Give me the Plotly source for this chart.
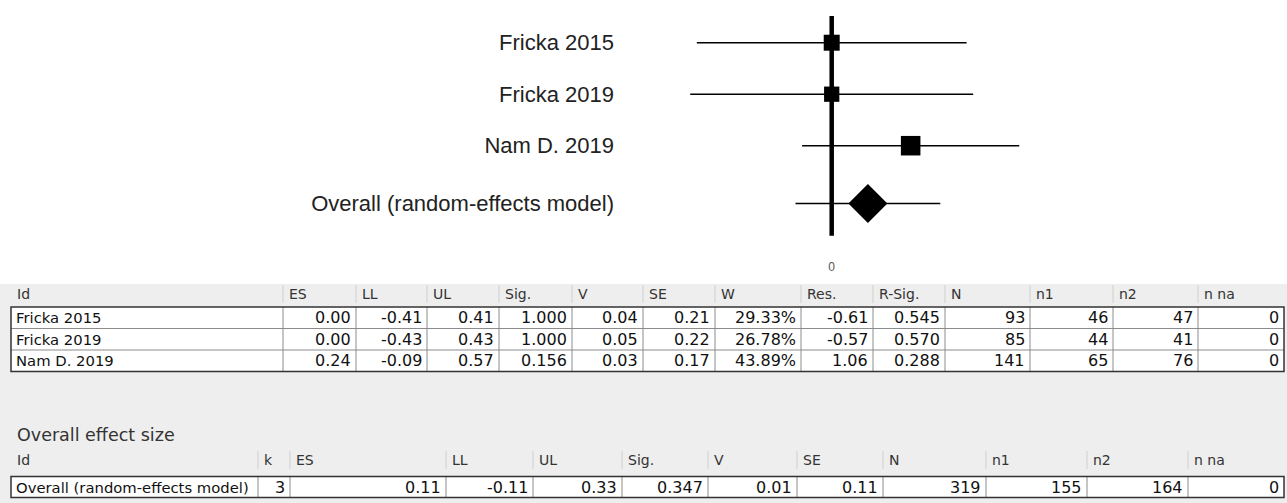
import plotly.graph_objects as go

FIG_W, FIG_H = 1287, 503

# ---- study level results ----
study_ids = ["Fricka 2015", "Fricka 2019", "Nam D. 2019"]
es = [0.00, 0.00, 0.24]
ll = [-0.41, -0.43, -0.09]
ul = [0.41, 0.43, 0.57]
sig = [1.000, 1.000, 0.156]
var = [0.04, 0.05, 0.03]
se = [0.21, 0.22, 0.17]
weight = [29.33, 26.78, 43.89]
res = [-0.61, -0.57, 1.06]
r_sig = [0.545, 0.570, 0.288]
n_total = [93, 85, 141]
n1 = [46, 44, 65]
n2 = [47, 41, 76]
n_na = [0, 0, 0]

# ---- overall (random-effects) ----
overall_id = "Overall (random-effects model)"
overall_k = 3
overall_es = 0.11
overall_ll = -0.11
overall_ul = 0.33
overall_sig = 0.347
overall_v = 0.01
overall_se = 0.11
overall_n = 319
overall_n1 = 155
overall_n2 = 164
overall_n_na = 0

study_header = ["Id", "ES", "LL", "UL", "Sig.", "V", "SE", "W", "Res.", "R-Sig.", "N", "n1", "n2", "n na"]
overall_header = ["Id", "k", "ES", "LL", "UL", "Sig.", "V", "SE", "N", "n1", "n2", "n na"]

# layout constants (pixels)
ROW0_PX = 42.7      # centre of first study row in the forest plot
ROW_STEP_PX = 51.5  # vertical distance between study rows
OVERALL_GAP = 0.12  # extra gap before the pooled row (in row units)
PLOT_LEFT_PX = 615
PLOT_BOTTOM_PX = 258
ZERO_PX = 831.7
PX_PER_UNIT = 329.0

T1_COLS = [11, 283, 356, 427, 499, 572, 643, 715, 801, 873, 945, 1030, 1113, 1198, 1284]
T2_COLS = [11, 258, 290, 446, 533, 622, 708, 797, 883, 986, 1087, 1188, 1284]

TABLE_FONT = "DejaVu Sans"
LABEL_FONT = "Liberation Sans, Arial, Helvetica"


def px(x):
    return x / FIG_W


def py(y):
    return 1 - y / FIG_H


def add_table(fig, cols, header, rows, header_y, body_top, row_h=21):
    """Draw a simple bordered table (header band + white body) with shapes/annotations."""
    body_bottom = body_top + row_h * len(rows)
    fig.add_shape(type='rect', xref='paper', yref='paper',
                  x0=px(cols[0]), x1=px(cols[-1]), y0=py(body_top), y1=py(body_bottom),
                  fillcolor='white', line=dict(width=0))
    for c in cols[1:-1]:
        fig.add_shape(type='line', xref='paper', yref='paper',
                      x0=px(c), x1=px(c), y0=py(body_top), y1=py(body_bottom),
                      line=dict(color='#8c8c8c', width=1))
    for r in range(1, len(rows)):
        yy = py(body_top + r * row_h)
        fig.add_shape(type='line', xref='paper', yref='paper',
                      x0=px(cols[0]), x1=px(cols[-1]), y0=yy, y1=yy,
                      line=dict(color='#8c8c8c', width=1))
    fig.add_shape(type='rect', xref='paper', yref='paper',
                  x0=px(cols[0]), x1=px(cols[-1]), y0=py(body_top), y1=py(body_bottom),
                  line=dict(color='#333333', width=1.5))

    # header
    for i, h in enumerate(header):
        if i > 0:
            fig.add_shape(type='line', xref='paper', yref='paper',
                          x0=px(cols[i]), x1=px(cols[i]),
                          y0=py(header_y - 9), y1=py(header_y + 9),
                          line=dict(color='#cfcfcf', width=1))
        fig.add_annotation(text=h, xref='paper', yref='paper',
                           x=px(cols[i] + 4), y=py(header_y),
                           xanchor='left', yanchor='middle', showarrow=False,
                           font=dict(family=TABLE_FONT, size=14, color='#333333'))

    # body cells
    for r, row in enumerate(rows):
        yc = py(body_top + (r + 0.5) * row_h)
        for i, val in enumerate(row):
            if i == 0:
                xx, anchor, size = px(cols[0] + 3), 'left', 14.8
            else:
                xx, anchor, size = px(cols[i + 1] - 3), 'right', 16
            fig.add_annotation(text=val, xref='paper', yref='paper', x=xx, y=yc,
                               xanchor=anchor, yanchor='middle', showarrow=False,
                               font=dict(family=TABLE_FONT, size=size, color='#111111'))


fig = go.Figure()

# row positions of the forest plot
study_y = list(range(len(study_ids)))
overall_y = len(study_ids) + OVERALL_GAP
marker_sizes = [2.95 * w ** 0.5 for w in weight]

# study estimates with CI whiskers
fig.add_trace(go.Scatter(
    x=es, y=study_y, mode='markers',
    marker=dict(symbol='square', size=marker_sizes, color='black', opacity=1, line=dict(width=0)),
    error_x=dict(type='data', symmetric=False,
                 array=[u - e for u, e in zip(ul, es)],
                 arrayminus=[e - l for e, l in zip(es, ll)],
                 width=0, thickness=1.5, color='black'),
    showlegend=False, hoverinfo='skip'
))

# pooled estimate
fig.add_trace(go.Scatter(
    x=[overall_es], y=[overall_y], mode='markers',
    marker=dict(symbol='diamond', size=30, color='black', opacity=1, line=dict(width=0)),
    error_x=dict(type='data', symmetric=False,
                 array=[overall_ul - overall_es], arrayminus=[overall_es - overall_ll],
                 width=0, thickness=1.5, color='black'),
    showlegend=False, hoverinfo='skip'
))

# line of no effect
fig.add_shape(type='line', xref='x', yref='y', x0=0, x1=0,
              y0=-0.52, y1=overall_y + 0.63,
              line=dict(color='black', width=4.5), layer='below')

# grey panel behind the tables
fig.add_shape(type='rect', xref='paper', yref='paper', x0=0, x1=1, y0=0, y1=py(284),
              fillcolor='#eeeeee', line=dict(width=0), layer='below')

x0 = -(ZERO_PX - PLOT_LEFT_PX) / PX_PER_UNIT
x1 = x0 + (FIG_W - PLOT_LEFT_PX) / PX_PER_UNIT
y_top = -ROW0_PX / ROW_STEP_PX
y_bottom = (PLOT_BOTTOM_PX - ROW0_PX) / ROW_STEP_PX

fig.update_layout(
    width=FIG_W, height=FIG_H,
    margin=dict(l=0, r=0, t=0, b=0),
    paper_bgcolor='white', plot_bgcolor='white',
    xaxis=dict(domain=[px(PLOT_LEFT_PX), 1], range=[x0, x1],
               tickvals=[0], ticktext=['0'], ticks='',
               showgrid=False, zeroline=False, showline=False,
               tickfont=dict(family=LABEL_FONT, size=12, color='#555555')),
    yaxis=dict(domain=[py(PLOT_BOTTOM_PX), 1], range=[y_bottom, y_top],
               tickvals=study_y + [overall_y], ticktext=study_ids + [overall_id],
               ticks='', showgrid=False, zeroline=False, showline=False,
               tickfont=dict(family=LABEL_FONT, size=22, color='#222222')),
)

# study table
study_rows = []
for i in range(len(study_ids)):
    study_rows.append([
        study_ids[i], f"{es[i]:.2f}", f"{ll[i]:.2f}", f"{ul[i]:.2f}", f"{sig[i]:.3f}",
        f"{var[i]:.2f}", f"{se[i]:.2f}", f"{weight[i]:.2f}%", f"{res[i]:.2f}",
        f"{r_sig[i]:.3f}", str(n_total[i]), str(n1[i]), str(n2[i]), str(n_na[i]),
    ])
add_table(fig, T1_COLS, study_header, study_rows, header_y=294, body_top=307, row_h=21.5)

# overall table
fig.add_annotation(text="Overall effect size", xref='paper', yref='paper',
                   x=px(15), y=py(435), xanchor='left', yanchor='middle', showarrow=False,
                   font=dict(family=TABLE_FONT, size=17.5, color='#333333'))
overall_rows = [[
    overall_id, str(overall_k), f"{overall_es:.2f}", f"{overall_ll:.2f}", f"{overall_ul:.2f}",
    f"{overall_sig:.3f}", f"{overall_v:.2f}", f"{overall_se:.2f}", str(overall_n),
    str(overall_n1), str(overall_n2), str(overall_n_na),
]]
add_table(fig, T2_COLS, overall_header, overall_rows, header_y=460, body_top=476.5)

# drop the default 8px page margin so the figure sits flush in the window
fig.write_html("out.html", config={'displayModeBar': False},
               post_script="document.body.style.margin='0';")
